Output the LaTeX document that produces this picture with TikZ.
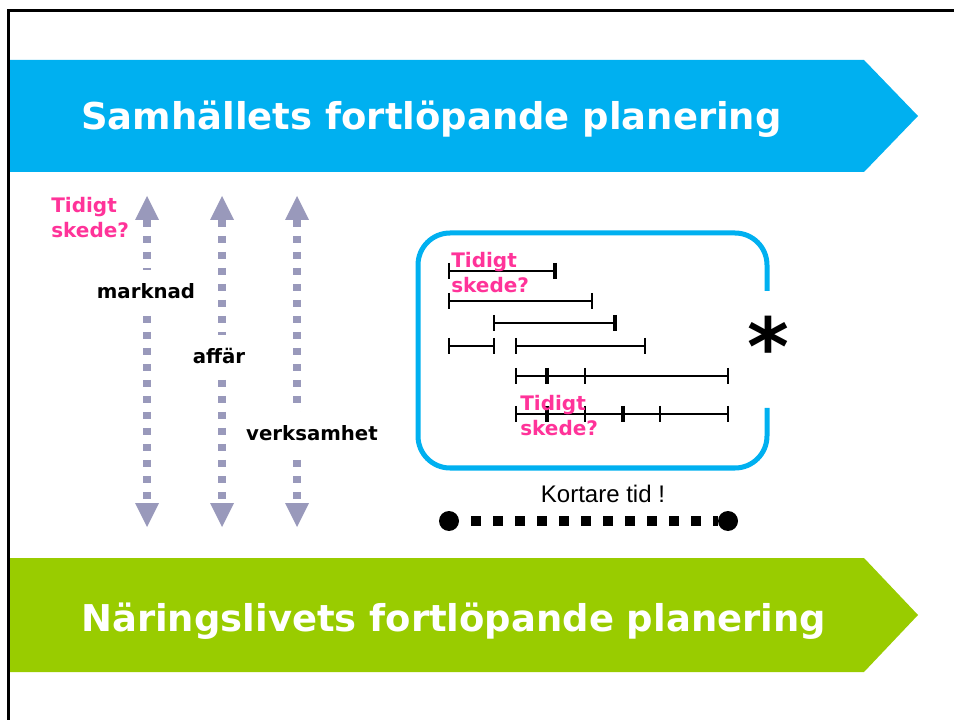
\documentclass[tikz,border=0pt]{standalone}
\usepackage{fontspec}
\setmainfont{Liberation Sans}
\newfontfamily\widefont{DejaVu Sans}
\usepackage{tikz}
\definecolor{skyband}{HTML}{00B0F0}
\definecolor{limeband}{HTML}{99CC00}
\definecolor{signal}{HTML}{FF3399}
\definecolor{slate}{HTML}{9999BB}
\usetikzlibrary{
  arrows.meta,
  positioning
}
\tikzset{
  every picture/.style={line join=miter},
  frame/.style={draw=black, line width=2.2pt},
  bandtitle/.style={
    font=\widefont\bfseries\fontsize{27.7}{32}\selectfont,
    text=white,
    anchor=base west,
    inner sep=0pt
  },
  span/.style={
    line width=6pt,
    draw=slate,
    dash pattern=on 5.5pt off 6.5pt,
    arrows={Triangle[width=18pt,length=18pt,line width=0pt]-Triangle[width=18pt,length=18pt,line width=0pt]}
  },
  spanlabel/.style={
    font=\widefont\bfseries\fontsize{14.8}{18}\selectfont,
    fill=white,
    inner xsep=1pt,
    minimum height=32pt
  },
  early/.style={
    font=\widefont\bfseries\fontsize{15}{18.75}\selectfont,
    text=signal,
    align=left,
    anchor=north west,
    inner sep=0pt
  },
  frontier/.style={draw=skyband, line width=3.75pt, rounded corners=24pt},
  bar/.style={draw=black, line width=0.9pt},
  thickbar/.style={draw=black, line width=1.6pt},
  tick/.style={draw=black, line width=0.9pt},
  heavytick/.style={draw=black, line width=2.4pt},
  dot/.style={circle, fill=black, minimum size=15pt, inner sep=0pt},
  dotrow/.style={draw=black, line width=7.5pt, dash pattern=on 7.5pt off 9pt, dash phase=7.5pt}
}

\begin{document}
\begin{tikzpicture}[x=0.75pt, y=-0.75pt]
  \useasboundingbox (0,0) rectangle (954,720);

  % bands
  \fill[skyband] (10,60) -- (864,60) -- (918,116) -- (864,172) -- (10,172) -- cycle;
  \node[bandtitle] (society) at (81,130) {Samhällets fortlöpande planering};
  \fill[limeband] (10,558) -- (864,558) -- (918,615) -- (864,672) -- (10,672) -- cycle;
  \node[bandtitle] (business) at (81,631) {Näringslivets fortlöpande planering};
  \draw[frame] (8.5,720) -- (8.5,10.5) -- (954,10.5);

  % planning horizons
  \foreach \name/\x in {market/147, deal/222, operation/297} {
    \coordinate (\name top) at (\x,196);
    \coordinate (\name bot) at (\x,527);
    \draw[span] (\name top) -- (\name bot);
  }
  \node[spanlabel] (marketlbl) at (146,291) {marknad};
  \node[spanlabel] (deallbl) at (219,356) {affär};
  \node[spanlabel] (operationlbl) at (312,433) {verksamhet};
  \node[early] (early1) at (51,197) {Tidigt\\skede?};

  % projects
  \draw[frontier] (767,291) -- (767,233) -- (418,233) -- (418,468) -- (767,468) -- (767,408);
  \draw[bar] (449,271) -- (555,271);
  \draw[thickbar] (449,301) -- (592,301);
  \draw[bar] (494,323) -- (615,323);
  \draw[bar] (449,346) -- (494,346);
  \draw[bar] (516,346) -- (645,346);
  \draw[bar] (516,376) -- (728,376);
  \draw[bar] (516,414) -- (728,414);
  \foreach \x/\y in {449/271, 449/301, 592/301, 494/323, 449/346, 494/346, 516/346, 645/346,
                     516/376, 585/376, 728/376, 516/414, 585/414, 660/414, 728/414}
    \draw[tick] (\x,\y-8) -- (\x,\y+8);
  \foreach \x/\y in {555/271, 615/323, 547/376, 547/414, 623/414}
    \draw[heavytick] (\x,\y-8) -- (\x,\y+8);
  \node[early] (early2) at (451,252) {Tidigt\\skede?};
  \node[early] (early3) at (520,395) {Tidigt\\skede?};
  \node[font=\widefont\bfseries\fontsize{60}{60}\selectfont, anchor=base] (star) at (768,376) {*};

  % shorter time
  \node[font=\fontsize{18}{20}\selectfont] (shorter) at (603,494) {Kortare tid !};
  \node[dot] (start) at (449,521) {};
  \node[dot] (finish) at (728,521) {};
  \draw[dotrow] (start) -- (finish);
\end{tikzpicture}
\end{document}
